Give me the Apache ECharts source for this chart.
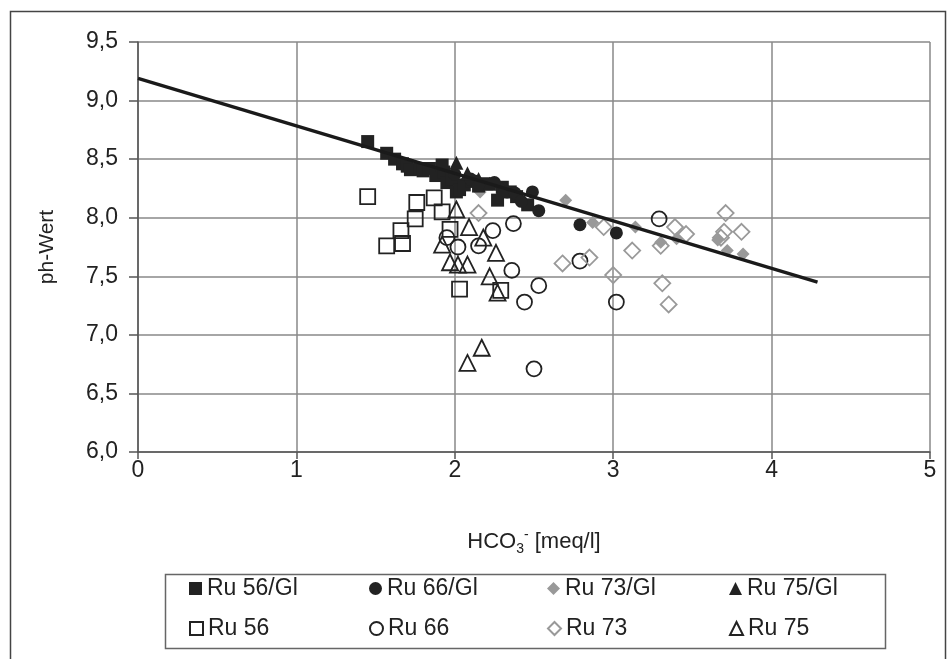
<!DOCTYPE html>
<html>
<head>
<meta charset="utf-8">
<script src="https://cdn.jsdelivr.net/npm/echarts@6/dist/echarts.min.js"></script>
<style>
  html, body, #main { width: 949px; height: 659px; margin: 0; background: #fff; }
</style>
</head>
<body>
<div id="main"></div>
<script>
// HCO3- [meq/l], pH
var ru56Gl = [[1.45,8.65],[1.57,8.55],[1.62,8.50],[1.67,8.46],[1.70,8.44],[1.72,8.41],[1.78,8.42],
  [1.80,8.40],[1.84,8.42],[1.88,8.36],[1.92,8.45],[1.93,8.39],[1.95,8.30],[1.98,8.33],[2.01,8.22],
  [2.03,8.24],[2.06,8.28],[2.11,8.31],[2.15,8.27],[2.20,8.29],[2.27,8.15],[2.30,8.26],[2.35,8.22],
  [2.39,8.18],[2.46,8.11]];
var ru66Gl = [[2.00,8.37],[2.10,8.33],[2.25,8.30],[2.33,8.22],[2.38,8.21],[2.42,8.14],[2.49,8.22],
  [2.53,8.06],[2.79,7.94],[3.02,7.87]];
var ru73Gl = [[2.16,8.22],[2.70,8.15],[2.87,7.96],[3.14,7.92],[3.30,7.79],[3.40,7.82],[3.66,7.81],
  [3.72,7.72],[3.82,7.69]];
var ru75Gl = [[2.01,8.47],[2.08,8.38],[2.15,8.33],[2.22,8.29],[2.30,8.25]];
var ru56 = [[1.45,8.18],[1.57,7.76],[1.67,7.78],[1.66,7.89],[1.76,8.13],[1.75,7.99],[1.87,8.17],
  [1.92,8.05],[1.97,7.90],[2.03,7.39],[2.29,7.38]];
var ru66 = [[1.95,7.83],[2.02,7.75],[2.15,7.76],[2.24,7.89],[2.37,7.95],[2.36,7.55],[2.53,7.42],
  [2.44,7.28],[2.50,6.71],[2.79,7.63],[3.02,7.28],[3.29,7.99]];
var ru73 = [[2.15,8.04],[2.68,7.61],[2.85,7.66],[2.94,7.92],[3.00,7.51],[3.12,7.72],[3.30,7.76],
  [3.39,7.92],[3.46,7.86],[3.31,7.44],[3.35,7.26],[3.71,8.04],[3.70,7.88],[3.81,7.88],[3.68,7.83]];
var ru75 = [[2.01,8.07],[2.09,7.92],[1.92,7.77],[2.18,7.83],[2.26,7.70],[1.97,7.62],[2.02,7.60],
  [2.08,7.60],[2.22,7.50],[2.27,7.36],[2.08,6.76],[2.17,6.89]];
var trendLine = [[0,9.19],[4.29,7.45]];

var row1 = ['Ru 56/Gl', 'Ru 66/Gl', 'Ru 73/Gl', 'Ru 75/Gl'];
var row2 = ['Ru 56', 'Ru 66', 'Ru 73', 'Ru 75'];
var colLeft = [189, 369, 547, 729];

var chart = echarts.init(document.getElementById('main'));
var font = 'Liberation Sans, Arial, sans-serif';

function filled(name, data, symbol, size, color) {
  return {
    name: name, type: 'scatter', data: data, symbol: symbol, symbolSize: size,
    itemStyle: { color: color, opacity: 1 }
  };
}
function open(name, data, symbol, size, color) {
  return {
    name: name, type: 'scatter', data: data, symbol: symbol, symbolSize: size,
    itemStyle: { color: 'rgba(0,0,0,0)', borderColor: color, borderWidth: 1.8, opacity: 1 }
  };
}

// one legend per cell so the columns line up
var legends = [];
[row1, row2].forEach(function (row, r) {
  row.forEach(function (name, c) {
    legends.push({
      data: [name], left: colLeft[c], top: r === 0 ? 577 : 617,
      itemWidth: 13, itemHeight: 13, itemGap: 0, padding: 0,
      textStyle: { fontFamily: font, fontSize: 23, color: '#222' }
    });
  });
});

var option = {
  backgroundColor: '#fff',
  animation: false,
  grid: { left: 138, top: 42, right: 19, bottom: 207 },
  xAxis: {
    type: 'value', min: 0, max: 5, interval: 1,
    name: '{a|HCO}{sub|3}{sup|-}{a| [meq/l]}', nameLocation: 'middle', nameGap: 76,
    nameTextStyle: {
      rich: {
        a: { fontFamily: font, fontSize: 22, color: '#222', lineHeight: 28 },
        sub: { fontFamily: font, fontSize: 14, color: '#222', verticalAlign: 'bottom', lineHeight: 14 },
        sup: { fontFamily: font, fontSize: 14, color: '#222', verticalAlign: 'top', lineHeight: 14 }
      }
    },
    axisLine: { show: true, lineStyle: { color: '#555', width: 1.5 } },
    axisTick: { show: true, length: 7, lineStyle: { color: '#555', width: 1.5 } },
    axisLabel: { fontFamily: font, fontSize: 23, color: '#222', margin: 7 },
    splitLine: { show: true, lineStyle: { color: '#888', width: 1.5 } }
  },
  yAxis: {
    type: 'value', min: 6, max: 9.5, interval: 0.5,
    name: 'ph-Wert', nameLocation: 'middle', nameGap: 80, nameRotate: 90,
    nameTextStyle: { fontFamily: font, fontSize: 21, color: '#222' },
    axisLine: { show: true, lineStyle: { color: '#555', width: 1.5 } },
    axisTick: { show: true, length: 9, lineStyle: { color: '#555', width: 1.5 } },
    axisLabel: {
      fontFamily: font, fontSize: 23, color: '#222', margin: 20,
      formatter: function (v) { return v.toFixed(1).replace('.', ','); }
    },
    splitLine: { show: true, lineStyle: { color: '#888', width: 1.5 } }
  },
  legend: legends,
  graphic: [
    { type: 'rect', left: 8, top: 9, shape: { width: 935, height: 700 },
      style: { fill: 'none', stroke: '#444', lineWidth: 1.5 }, silent: true },
    { type: 'rect', left: 163, top: 572, shape: { width: 720, height: 74 },
      style: { fill: 'none', stroke: '#666', lineWidth: 1.5 }, silent: true }
  ],
  series: [
    open('Ru 56', ru56, 'rect', 15, '#222'),
    open('Ru 66', ru66, 'circle', 15, '#222'),
    open('Ru 73', ru73, 'diamond', 16, '#999'),
    open('Ru 75', ru75, 'triangle', 16, '#222'),
    filled('Ru 73/Gl', ru73Gl, 'diamond', 13, '#999'),
    filled('Ru 56/Gl', ru56Gl, 'rect', 13, '#222'),
    filled('Ru 66/Gl', ru66Gl, 'circle', 13, '#222'),
    filled('Ru 75/Gl', ru75Gl, 'triangle', 14, '#222'),
    {
      name: 'trend', type: 'line', data: trendLine, symbol: 'none',
      lineStyle: { color: '#1a1a1a', width: 3.5 }, z: 5
    }
  ]
};
chart.setOption(option);
</script>
</body>
</html>
